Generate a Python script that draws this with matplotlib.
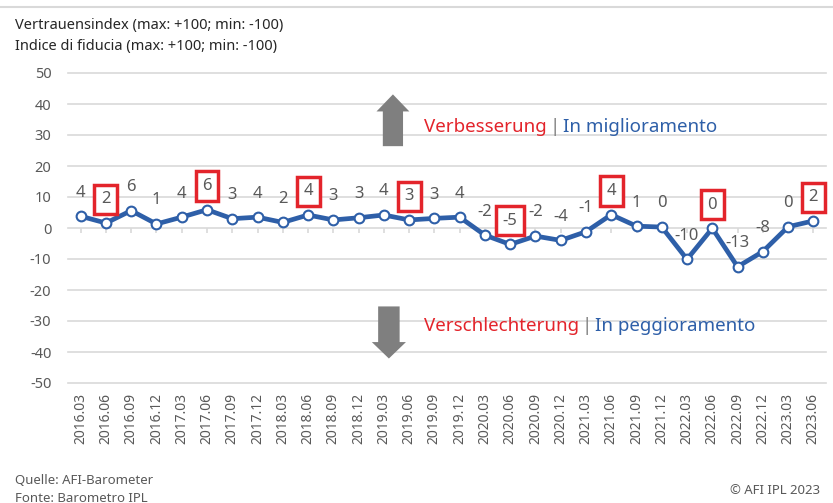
import matplotlib.pyplot as plt
import numpy as np
from matplotlib.patches import FancyArrow

# Daten
quarters = ['2016.03', '2016.06', '2016.09', '2016.12',
            '2017.03', '2017.06', '2017.09', '2017.12',
            '2018.03', '2018.06', '2018.09', '2018.12',
            '2019.03', '2019.06', '2019.09', '2019.12',
            '2020.03', '2020.06', '2020.09', '2020.12',
            '2021.03', '2021.06', '2021.09', '2021.12',
            '2022.03', '2022.06', '2022.09', '2022.12',
            '2023.03', '2023.06']
values = [3.8, 1.6, 5.6, 1.3, 3.5, 5.9, 3.0, 3.5, 1.8, 4.2, 2.6, 3.3, 4.2, 2.6, 3.1,
          3.5, -2.3, -5.3, -2.6, -4.0, -1.2, 4.3, 0.6, 0.3, -10.1, -0.1, -12.5, -7.6,
          0.4, 2.3]
labels = [4, 2, 6, 1, 4, 6, 3, 4, 2, 4, 3, 3, 4, 3, 3, 4, -2, -5, -2, -4, -1, 4, 1, 0,
          -10, 0, -13, -8, 0, 2]
highlighted = [1, 5, 9, 13, 17, 21, 25, 29]

blue = '#2E5FA8'
red = '#E3242B'
grey_text = '#595959'
grid_col = '#D9D9D9'

plt.rcParams['font.family'] = ['Noto Sans', 'DejaVu Sans']
plt.rcParams['axes.unicode_minus'] = False

fig = plt.figure(figsize=(8.33, 5.03), dpi=100)
ax = fig.add_axes([68 / 833, 1 - 383 / 503, (826 - 68) / 833, (383 - 73) / 503])

x = np.arange(len(values))
ax.set_xlim(-0.5, len(values) - 0.5)
ax.set_ylim(-50, 50)
ax.set_yticks(np.arange(-50, 51, 10))
for yv in np.arange(-50, 51, 10):
    ax.axhline(yv, color=grid_col, lw=1.2, zorder=0, clip_on=False)
ax.vlines(x, -1.5, 0, color=grid_col, lw=1.2, zorder=0)
for s in ax.spines.values():
    s.set_visible(False)

ax.plot(x, values, color=blue, lw=3.4, marker='o', markersize=7, markerfacecolor='white',
        markeredgecolor=blue, markeredgewidth=1.5, zorder=3)

for i, (v, lab) in enumerate(zip(values, labels)):
    box = None
    if i in highlighted:
        box = dict(boxstyle='square,pad=0.4', fc='white', ec=red, lw=2.5)
    ax.annotate(str(lab), (i, v), xytext=(0, 17), textcoords='offset points',
                ha='center', va='center', fontsize=12, color=grey_text, zorder=4,
                bbox=box)

ax.set_xticks(x)
ax.set_xticklabels(quarters, rotation=90, fontsize=10, color=grey_text)
ax.tick_params(axis='x', length=0, pad=7)
ax.tick_params(axis='y', length=0, pad=12, labelsize=10.5, labelcolor=grey_text)

# Pfeile
ax.add_patch(FancyArrow(12.36, 26.4, 0, 16.7, width=0.8, head_width=1.3,
                        head_length=5.5, length_includes_head=True, color='#7F7F7F',
                        lw=0))
ax.add_patch(FancyArrow(12.2, -25.3, 0, -16.8, width=0.85, head_width=1.35,
                        head_length=5.3, length_includes_head=True, color='#7F7F7F',
                        lw=0))


def two_lang(y, de, it):
    t1 = fig.text(424 / 833, 1 - y / 503, de, color=red, fontsize=13.5, va='center')
    t2 = ax.annotate('|', xy=(1, 0.5), xycoords=t1, xytext=(2, 0),
                     textcoords='offset points', color='#7F7F7F', fontsize=13.5,
                     va='center', ha='left', annotation_clip=False)
    ax.annotate(it, xy=(1, 0.5), xycoords=t2, xytext=(2, 0),
                textcoords='offset points', color=blue, fontsize=13.5,
                va='center', ha='left', annotation_clip=False)


two_lang(127, 'Verbesserung', 'In miglioramento')
two_lang(326, 'Verschlechterung', 'In peggioramento')

fig.text(15 / 833, 1 - 26 / 503, 'Vertrauensindex (max: +100; min: -100)', fontsize=10.5,
         color='#262626', va='center')
fig.text(15 / 833, 1 - 46 / 503, 'Indice di fiducia (max: +100; min: -100)', fontsize=10.5,
         color='#262626', va='center')
fig.text(15 / 833, 1 - 480 / 503, 'Quelle: AFI-Barometer', fontsize=9.5, color=grey_text,
         va='center')
fig.text(15 / 833, 1 - 498 / 503, 'Fonte: Barometro IPL', fontsize=9.5, color=grey_text,
         va='center')
fig.text(820 / 833, 1 - 491 / 503, '\u00a9 AFI IPL 2023', fontsize=9.5, color=grey_text,
         va='center', ha='right')
fig.add_artist(plt.Line2D([0, 1], [1 - 7 / 503, 1 - 7 / 503], color=grid_col, lw=1.5,
                          transform=fig.transFigure))

fig.savefig('out.png', dpi=100, facecolor='white')
